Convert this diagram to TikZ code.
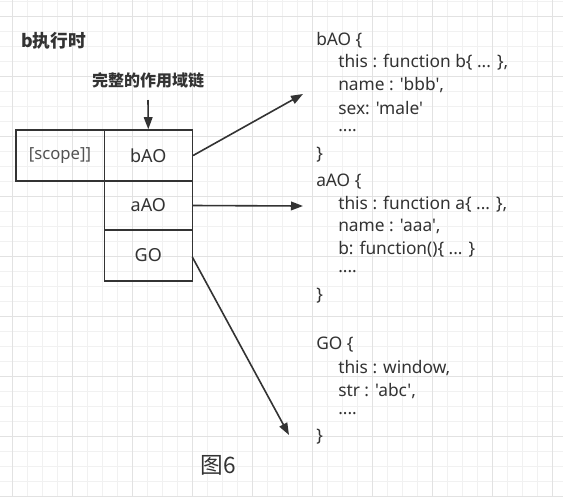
\documentclass[tikz,border=0pt]{standalone}
\usepackage{fontspec}
\setmainfont{Noto Sans}[Ligatures=TeXOff]
\newfontfamily\cjk{Noto Sans CJK SC}
\usetikzlibrary{arrows.meta}
\definecolor{ink}{HTML}{333333}
\definecolor{gridminor}{HTML}{F1F1F1}
\definecolor{gridmajor}{HTML}{E2E2E2}
\begin{document}
\begin{tikzpicture}[x=0.75pt,y=-0.75pt,
  cell/.style={draw=ink,line width=1.2pt,rectangle,inner sep=0pt,text=ink,font=\fontsize{13.5}{16}\selectfont},
  code/.style={anchor=west,inner sep=0pt,text=ink,font=\fontsize{13}{15}\selectfont},
  link/.style={draw=ink,line width=1.2pt,-{Triangle[length=9pt,width=6.5pt]}}]
\useasboundingbox (0,0) rectangle (563,497);
\fill[white] (0,0) rectangle (563,497);
% grid
\foreach \x in {-2.3,12.7,...,563} \draw[gridminor,line width=0.6pt] (\x,0) -- (\x,497);
\foreach \y in {1.7,16.7,...,497} \draw[gridminor,line width=0.6pt] (0,\y) -- (563,\y);
\foreach \x in {12.7,72.7,...,563} \draw[gridmajor,line width=0.7pt] (\x,0) -- (\x,497);
\foreach \y in {16.7,76.7,...,497} \draw[gridmajor,line width=0.7pt] (0,\y) -- (563,\y);
% titles
\node[anchor=west,inner sep=0pt,text=ink,font=\fontsize{13.3}{15}\selectfont\cjk\bfseries] (title) at (21,41) {b执行时};
\node[inner sep=0pt,text=ink,font=\fontsize{12}{14}\selectfont\cjk\bfseries] (chain) at (148,80) {完整的作用域链};
% boxes
\node[cell,minimum width=88.6*0.75pt,minimum height=51*0.75pt,text=ink!85,font=\fontsize{12.5}{15}\selectfont] (scope) at (60,155.5) {[scope]]};
\node[cell,minimum width=88*0.75pt,minimum height=51*0.75pt] (bAO) at (148.3,155.5) {bAO};
\node[cell,minimum width=88*0.75pt,minimum height=49*0.75pt] (aAO) at (148.3,205.5) {aAO};
\node[cell,minimum width=88*0.75pt,minimum height=51*0.75pt] (GO) at (148.3,255.5) {GO};
\coordinate (chainend) at (148,100);
\draw[link] (chainend) -- (bAO.north);
% code blocks
\node[code] (b1) at (316,40) {bAO \{};
\node[code] (b2) at (338,62.7) {this : function b\{ ... \},};
\node[code] (b3) at (338,85.3) {name : 'bbb',};
\node[code] (b4) at (338,108.5) {sex: 'male'};
\node[code] (b5) at (338,131) {....};
\node[code] (b6) at (316,155) {\}};
\node[code] (a1) at (316,181.7) {aAO \{};
\node[code] (a2) at (338,204) {this : function a\{ ... \},};
\node[code] (a3) at (338,226.7) {name : 'aaa',};
\node[code] (a4) at (338,249) {b: function()\{ ... \}};
\node[code] (a5) at (338,272) {....};
\node[code] (a6) at (316,296) {\}};
\node[code] (g1) at (316,345) {GO \{};
\node[code] (g2) at (338,368) {this : window,};
\node[code] (g3) at (338,390.7) {str : 'abc',};
\node[code] (g4) at (338,414) {....};
\node[code] (g6) at (316,437) {\}};
% arrows
\coordinate (tb) at (303,94);
\coordinate (ta) at (303,206);
\coordinate (tg) at (289,435);
\draw[link] (bAO.east) -- (tb);
\draw[link] (aAO.east) -- (ta);
\draw[link] (192.3,257) -- (tg);
% caption
\node[inner sep=0pt,text=ink,font=\fontsize{17}{20}\selectfont\cjk] (cap) at (218,465) {图6};
\end{tikzpicture}
\end{document}
